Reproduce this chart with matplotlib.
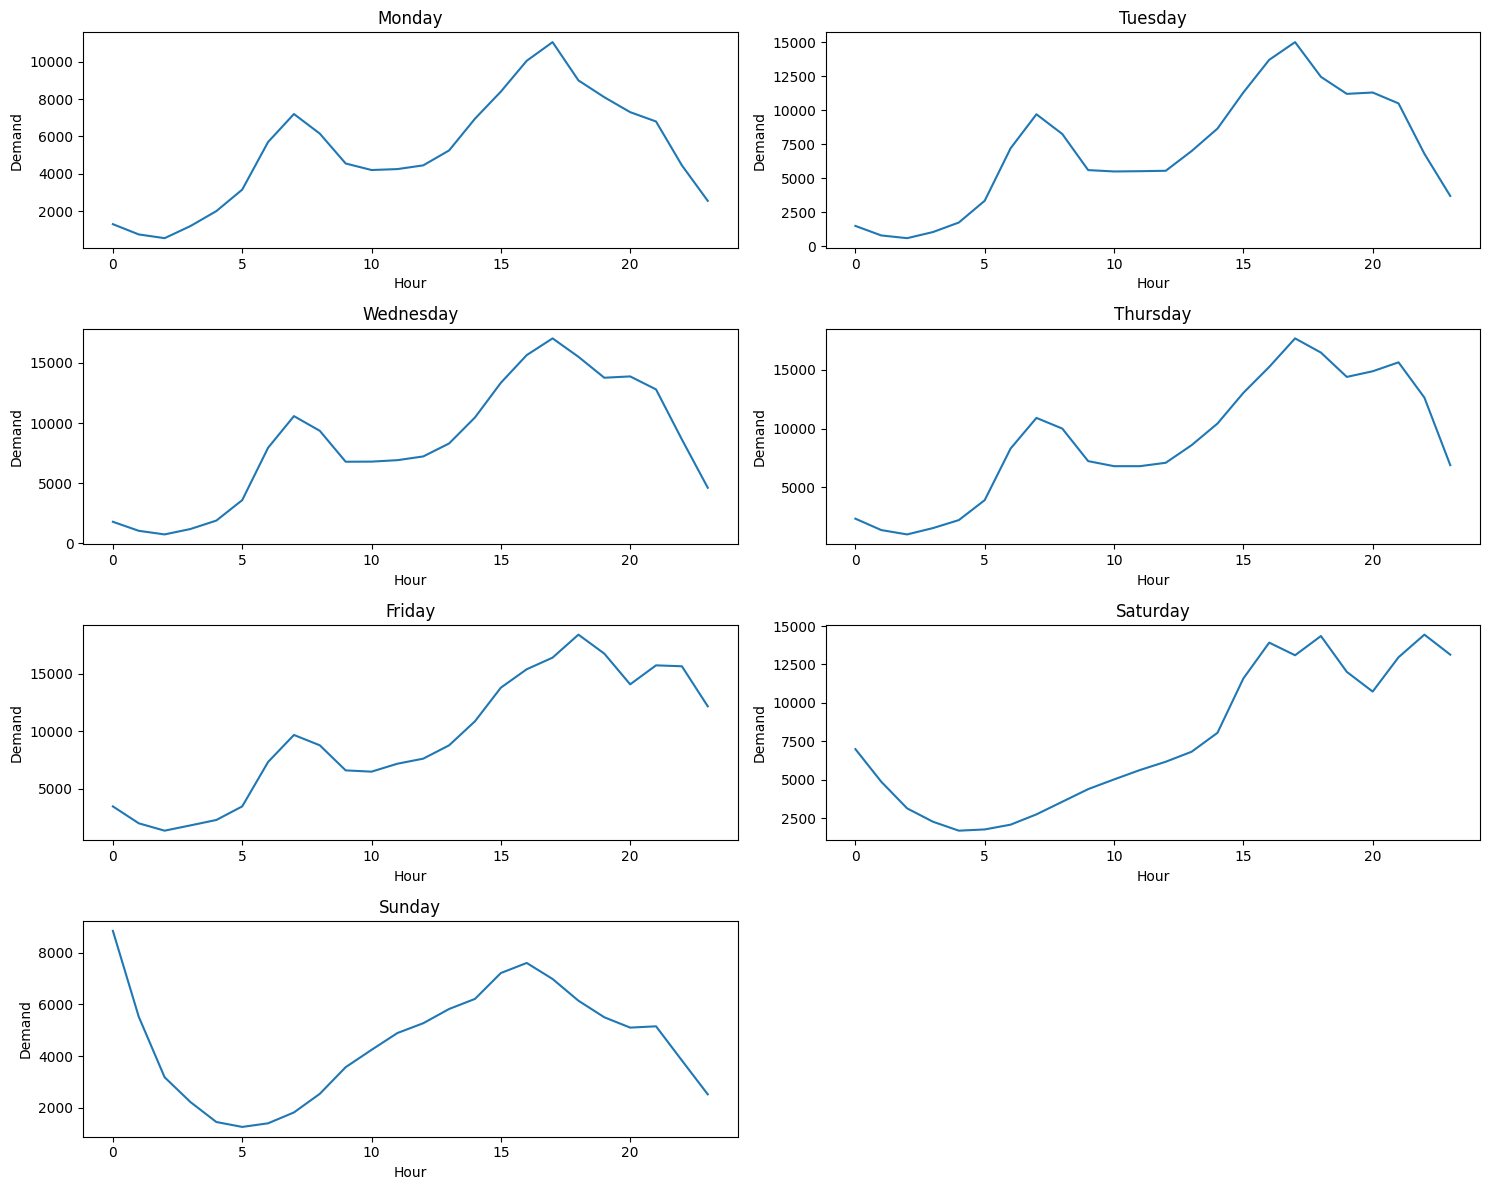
import matplotlib
matplotlib.use('Agg')
import matplotlib.pyplot as plt

hours = list(range(24))
days = ['Monday', 'Tuesday', 'Wednesday', 'Thursday', 'Friday', 'Saturday', 'Sunday']

monday = [1300, 750, 550, 1200, 2000, 3150, 5700, 7200, 6150, 4550, 4200, 4250,
          4450, 5250, 6950, 8400, 10050, 11050, 9000, 8100, 7300, 6800, 4450, 2550]
tuesday = [1500, 800, 600, 1050, 1750, 3350, 7200, 9700, 8250, 5600, 5500, 5520,
           5550, 7000, 8650, 11300, 13700, 15000, 12450, 11200, 11300, 10500, 6800, 3700]
wednesday = [1800, 1050, 750, 1200, 1900, 3600, 7950, 10580, 9360, 6790, 6800, 6920,
             7230, 8310, 10470, 13350, 15650, 17040, 15510, 13770, 13880, 12800, 8640, 4630]
thursday = [2340, 1370, 1000, 1540, 2220, 3920, 8310, 10920, 10010, 7240, 6810, 6810,
            7100, 8600, 10440, 13050, 15260, 17690, 16480, 14410, 14890, 15650, 12650, 6900]
friday = [3460, 1990, 1350, 1810, 2280, 3460, 7320, 9670, 8770, 6590, 6480, 7170,
          7610, 8770, 10860, 13780, 15380, 16390, 18390, 16740, 14070, 15720, 15640, 12160]
saturday = [7000, 4880, 3150, 2280, 1700, 1780, 2090, 2760, 3580, 4400, 5030, 5640,
            6180, 6830, 8060, 11590, 13920, 13100, 14350, 12020, 10740, 12970, 14440, 13140]
sunday = [8840, 5520, 3180, 2220, 1450, 1260, 1400, 1820, 2540, 3570, 4240, 4890,
          5270, 5820, 6210, 7210, 7600, 6980, 6140, 5500, 5100, 5150, 3830, 2520]

demand = [monday, tuesday, wednesday, thursday, friday, saturday, sunday]

fig, axes = plt.subplots(4, 2, figsize=(15, 12), dpi=100)
axes = axes.flatten()

for i, day in enumerate(days):
    ax = axes[i]
    ax.plot(hours, demand[i])
    ax.set_title(day)
    ax.set_xlabel('Hour')
    ax.set_ylabel('Demand')

fig.delaxes(axes[7])
plt.tight_layout()
plt.savefig('out.png', dpi=100, bbox_inches='tight')
plt.close(fig)
